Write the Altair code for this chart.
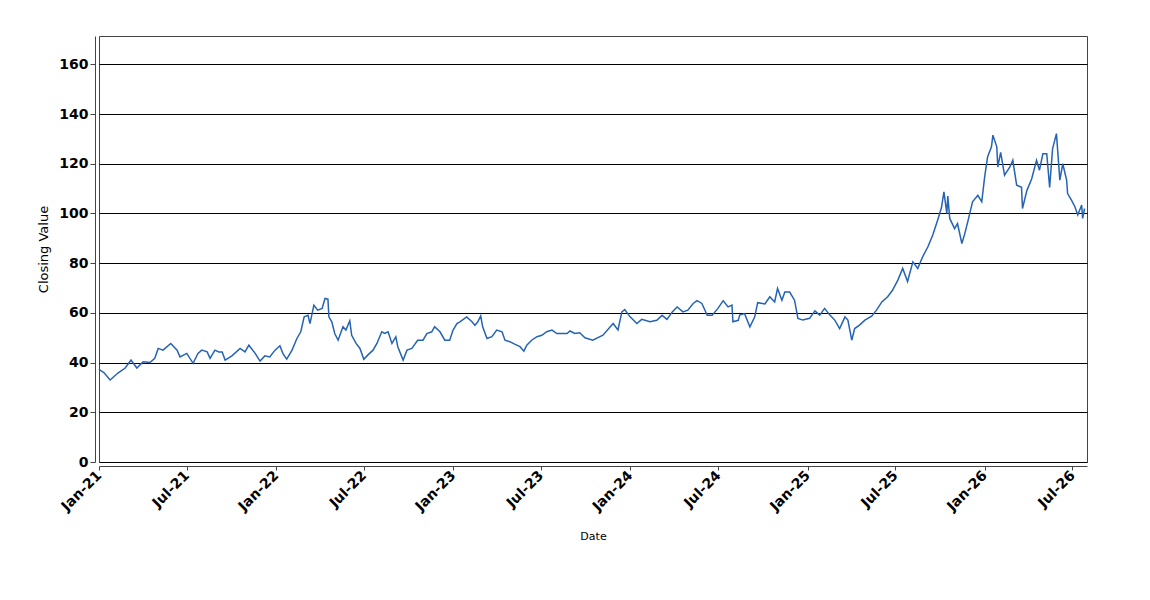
import altair as alt
import pandas as pd

start_date = "2021-01-01"

day_offsets = [
    0, 2, 10, 23, 39, 54, 66, 78, 91, 105, 115, 122, 132, 148, 161, 167, 181, 194, 204, 212,
    223, 229, 239, 247, 254, 260, 274, 291, 301, 309, 322, 332, 342, 352, 363, 373, 379, 387,
    398, 408, 416, 423, 431, 435, 443, 451, 460, 466, 472, 474, 480, 486, 493, 503, 509, 517,
    521, 530, 538, 546, 554, 565, 573, 583, 589, 596, 604, 612, 616, 627, 635, 645, 657, 668,
    676, 686, 692, 703, 713, 723, 730, 738, 744, 758, 769, 775, 781, 787, 791, 800, 810, 820,
    831, 837, 847, 857, 868, 876, 882, 892, 903, 913, 923, 934, 944, 954, 965, 971, 981, 991,
    1002, 1018, 1039, 1060, 1070, 1078, 1084, 1095, 1109, 1119, 1136, 1150, 1161, 1171, 1182,
    1192, 1204, 1214, 1225, 1233, 1243, 1254, 1264, 1276, 1287, 1297, 1305, 1307, 1318, 1321,
    1331, 1342, 1352, 1358, 1373, 1383, 1393, 1399, 1408, 1414, 1424, 1434, 1441, 1451, 1465,
    1476, 1486, 1496, 1507, 1517, 1527, 1538, 1544, 1552, 1558, 1568, 1579, 1593, 1603, 1614,
    1626, 1636, 1647, 1657, 1667, 1678, 1688, 1698, 1709, 1719, 1729, 1737, 1742, 1748, 1750,
    1754, 1764, 1770, 1779, 1785, 1791, 1801, 1812, 1820, 1826, 1832, 1840, 1843, 1851, 1853,
    1859, 1867, 1878, 1884, 1892, 1902, 1904, 1913, 1923, 1933, 1939, 1946, 1954, 1960, 1966,
    1974, 1981, 1987, 1995, 1997, 2005, 2012, 2018, 2026, 2028, 2032,
]

closing_values = [
    37.5, 37.0, 36.0, 33.0, 35.8, 37.8, 41.0, 37.8, 40.3, 40.0, 41.7, 45.7, 45.0, 47.7, 45.0, 42.3, 43.7, 39.7, 43.7, 45.0,
    44.3, 41.7, 45.0, 44.3, 44.3, 41.0, 42.7, 45.7, 44.3, 47.0, 43.7, 40.6, 42.7, 42.3, 45.0, 46.8, 43.7, 41.4,
    45.0, 49.7, 52.4, 58.4, 59.0, 55.7, 63.1, 61.1, 61.8, 65.8, 65.5, 58.4, 56.4, 51.7, 49.0, 54.4, 53.1, 56.8,
    51.0, 47.7, 45.7, 41.3, 43.0, 45.0, 47.7, 52.4, 51.7, 52.4, 47.7, 50.4, 46.4, 41.0, 45.0, 45.7, 49.0, 49.0,
    51.7, 52.4, 54.4, 52.4, 49.0, 49.0, 53.1, 55.7, 56.4, 58.4, 56.4, 55.0, 56.4, 58.8, 54.4, 49.7, 50.4, 53.1,
    52.4, 49.0, 48.4, 47.4, 46.4, 44.6, 47.0, 49.0, 50.4, 51.0, 52.4, 53.1, 51.7, 51.7, 51.7, 52.7, 51.7, 52.0,
    50.0, 49.0, 51.0, 55.7, 53.1, 60.4, 61.3, 58.4, 55.7, 57.4, 56.4, 57.0, 59.0, 57.4, 60.4,
    62.4, 60.4, 61.1, 63.8, 64.9, 63.8, 59.0, 59.0, 61.8, 64.9, 62.4, 63.1, 56.4, 57.0, 59.1,
    59.7, 54.4, 58.4, 64.1, 63.6, 66.5, 64.4, 69.8, 65.1, 68.4, 68.4, 65.1, 57.8, 57.1, 57.8,
    60.8, 59.1, 61.8, 59.1, 57.1, 53.7, 58.4, 57.1, 49.0, 53.7, 55.1, 57.1, 58.7, 61.1, 64.4,
    66.5, 69.1, 73.2, 77.9, 72.6, 80.5, 77.9, 82.5, 86.6, 91.3, 97.3, 102.4, 108.7, 100.0, 107.0,
    98.0, 93.9, 95.9, 87.9, 91.9, 96.5, 104.7, 107.3, 104.7, 114.7, 122.7, 126.8, 131.5, 126.8, 118.7,
    124.6, 115.4, 118.7, 121.4, 111.4, 110.5, 102.0, 109.2, 114.0, 121.4, 117.4, 124.0, 124.0, 110.5, 126.0,
    132.1, 113.4, 120.0, 113.4, 108.0, 105.4, 102.7, 99.4, 103.4, 98.0, 102.0,
]

y_ticks = [0, 20, 40, 60, 80, 100, 120, 140, 160]
tick_years = [2021, 2022, 2023, 2024, 2025, 2026]
tick_months = [1, 7]

dates = (pd.to_datetime(start_date) + pd.to_timedelta(day_offsets, unit="D")).strftime("%Y-%m-%d")
df = pd.DataFrame({"Date": dates, "Closing Value": closing_values})

x_values = [alt.DateTime(year=y, month=m, date=1, utc=True) for y in tick_years for m in tick_months]

FONT = "DejaVu Sans"

chart = (
    alt.Chart(df)
    .mark_line(color="#2563b3", strokeWidth=1.5, interpolate="linear")
    .encode(
        x=alt.X(
            "Date:T",
            scale=alt.Scale(
                type="utc",
                domain=[
                    alt.DateTime(year=2021, month=1, date=1, utc=True),
                    alt.DateTime(year=2026, month=7, date=31, utc=True),
                ],
                nice=False,
            ),
            axis=alt.Axis(
                values=x_values,
                labelExpr="utcFormat(datum.value, '%b-%y')",
                labelAngle=315,
                labelAlign="right",
                labelBaseline="middle",
                labelFont=FONT,
                labelFontSize=14,
                labelFontWeight="bold",
                labelColor="#000000",
                labelPadding=3,
                grid=False,
                offset=4,
                domainColor="#444444",
                tickColor="#444444",
                tickSize=4,
                title="Date",
                titleFont=FONT,
                titleFontSize=11,
                titleFontWeight="normal",
                titleColor="#000000",
                titlePadding=17,
            ),
        ),
        y=alt.Y(
            "Closing Value:Q",
            scale=alt.Scale(domain=[0, 171.4], nice=False, zero=True),
            axis=alt.Axis(
                values=y_ticks,
                labelFont=FONT,
                labelFontSize=14,
                labelFontWeight="bold",
                labelColor="#000000",
                labelPadding=2,
                grid=True,
                gridColor="#000000",
                gridWidth=1,
                gridOpacity=1,
                offset=4,
                domainColor="#444444",
                tickColor="#444444",
                tickSize=5,
                title="Closing Value",
                titleFont=FONT,
                titleFontSize=13,
                titleFontWeight="normal",
                titleColor="#000000",
                titlePadding=8,
            ),
        ),
    )
    .properties(
        width=988,
        height=426,
        background="#ffffff",
        autosize=alt.AutoSizeParams(type="none"),
        padding={"left": 91, "top": 28, "right": 50, "bottom": 90},
    )
    .configure_view(stroke="#444444", strokeWidth=1)
)

chart.save("out.html", embed_options={"renderer": "svg", "actions": False})
